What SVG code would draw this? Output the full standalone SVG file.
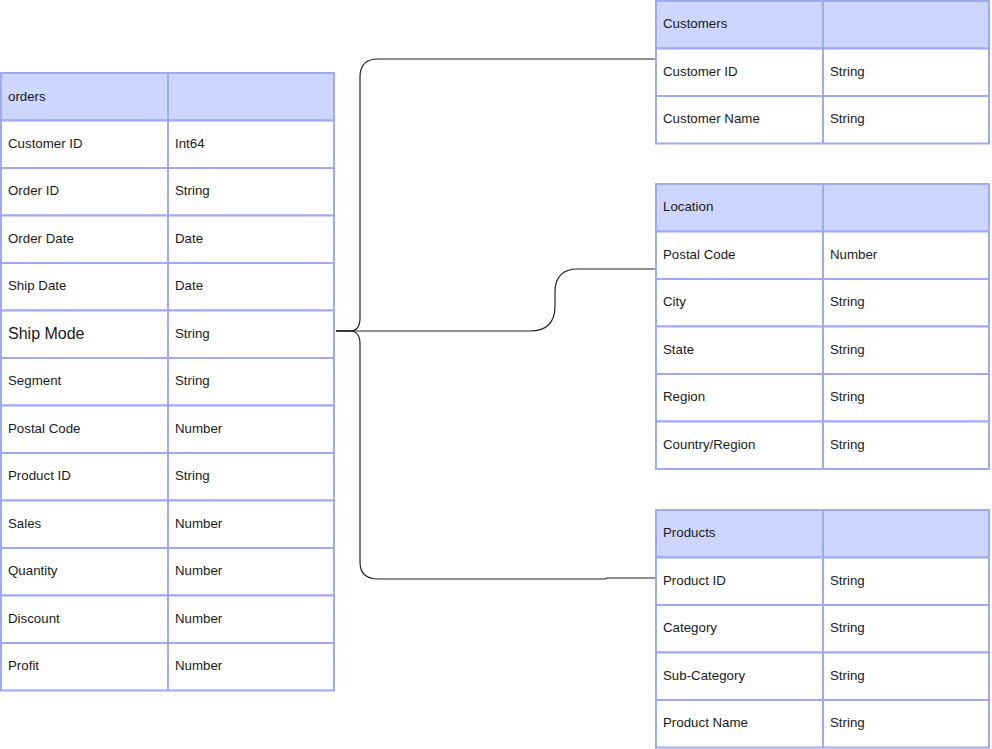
<svg xmlns="http://www.w3.org/2000/svg" width="992" height="749" viewBox="0 0 992 749">
<style>
.h{fill:#ccd6ff;stroke:#9daafa;stroke-width:2}
.r{fill:#ffffff;stroke:#9daafa;stroke-width:2}
.d{stroke:#9daafa;stroke-width:2}
text{font-family:"Liberation Sans",Arial,sans-serif;font-size:13.3px;fill:#1a1a1a}
.c{fill:none;stroke:#222;stroke-width:1.2}
</style>
<rect width="992" height="749" fill="#fff"/>
<g id="connectors">
<path class="c" d="M336,331 L350,331 Q360,331 360,318 L360,77 Q360,59 378,59 L655,59"/>
<path class="c" d="M336,331 L530,331 Q555,331 555,306 L555,292 Q555,269 578,269 L655,269"/>
<path class="c" d="M336,331 L350,331 Q360,331 360,344 L360,562 Q360,579 378,579 L605,579 L607,578 L655,578"/>
</g>
<g id="orders">
<rect class="h" x="1" y="73" width="333" height="47.5"/>
<rect class="r" x="1" y="120.5" width="333" height="47.5"/>
<rect class="r" x="1" y="168" width="333" height="47.5"/>
<rect class="r" x="1" y="215.5" width="333" height="47.5"/>
<rect class="r" x="1" y="263" width="333" height="47.5"/>
<rect class="r" x="1" y="310.5" width="333" height="47.5"/>
<rect class="r" x="1" y="358" width="333" height="47.5"/>
<rect class="r" x="1" y="405.5" width="333" height="47.5"/>
<rect class="r" x="1" y="453" width="333" height="47.5"/>
<rect class="r" x="1" y="500.5" width="333" height="47.5"/>
<rect class="r" x="1" y="548" width="333" height="47.5"/>
<rect class="r" x="1" y="595.5" width="333" height="47.5"/>
<rect class="r" x="1" y="643" width="333" height="47.5"/>
<line class="d" x1="168" y1="73" x2="168" y2="690.5"/>
<text x="8" y="101">orders</text>
<text x="8" y="148">Customer ID</text><text x="175" y="148">Int64</text>
<text x="8" y="195">Order ID</text><text x="175" y="195">String</text>
<text x="8" y="243">Order Date</text><text x="175" y="243">Date</text>
<text x="8" y="290">Ship Date</text><text x="175" y="290">Date</text>
<text x="8" y="339" style="font-size:16px">Ship Mode</text><text x="175" y="338">String</text>
<text x="8" y="385">Segment</text><text x="175" y="385">String</text>
<text x="8" y="433">Postal Code</text><text x="175" y="433">Number</text>
<text x="8" y="480">Product ID</text><text x="175" y="480">String</text>
<text x="8" y="528">Sales</text><text x="175" y="528">Number</text>
<text x="8" y="575">Quantity</text><text x="175" y="575">Number</text>
<text x="8" y="623">Discount</text><text x="175" y="623">Number</text>
<text x="8" y="670">Profit</text><text x="175" y="670">Number</text>
</g>
<g id="customers">
<rect class="h" x="656" y="1" width="333" height="47.5"/>
<rect class="r" x="656" y="48.5" width="333" height="47.5"/>
<rect class="r" x="656" y="96" width="333" height="47.5"/>
<line class="d" x1="823" y1="1" x2="823" y2="143.5"/>
<text x="663" y="28">Customers</text>
<text x="663" y="76">Customer ID</text><text x="830" y="76">String</text>
<text x="663" y="123">Customer Name</text><text x="830" y="123">String</text>
</g>
<g id="location">
<rect class="h" x="656" y="184" width="333" height="47.5"/>
<rect class="r" x="656" y="231.5" width="333" height="47.5"/>
<rect class="r" x="656" y="279" width="333" height="47.5"/>
<rect class="r" x="656" y="326.5" width="333" height="47.5"/>
<rect class="r" x="656" y="374" width="333" height="47.5"/>
<rect class="r" x="656" y="421.5" width="333" height="47.5"/>
<line class="d" x1="823" y1="184" x2="823" y2="469"/>
<text x="663" y="211">Location</text>
<text x="663" y="259">Postal Code</text><text x="830" y="259">Number</text>
<text x="663" y="306">City</text><text x="830" y="306">String</text>
<text x="663" y="354">State</text><text x="830" y="354">String</text>
<text x="663" y="401">Region</text><text x="830" y="401">String</text>
<text x="663" y="449">Country/Region</text><text x="830" y="449">String</text>
</g>
<g id="products">
<rect class="h" x="656" y="510" width="333" height="47.5"/>
<rect class="r" x="656" y="557.5" width="333" height="47.5"/>
<rect class="r" x="656" y="605" width="333" height="47.5"/>
<rect class="r" x="656" y="652.5" width="333" height="47.5"/>
<rect class="r" x="656" y="700" width="333" height="47.5"/>
<line class="d" x1="823" y1="510" x2="823" y2="747.5"/>
<text x="663" y="537">Products</text>
<text x="663" y="585">Product ID</text><text x="830" y="585">String</text>
<text x="663" y="632">Category</text><text x="830" y="632">String</text>
<text x="663" y="680">Sub-Category</text><text x="830" y="680">String</text>
<text x="663" y="727">Product Name</text><text x="830" y="727">String</text>
</g>
</svg>
